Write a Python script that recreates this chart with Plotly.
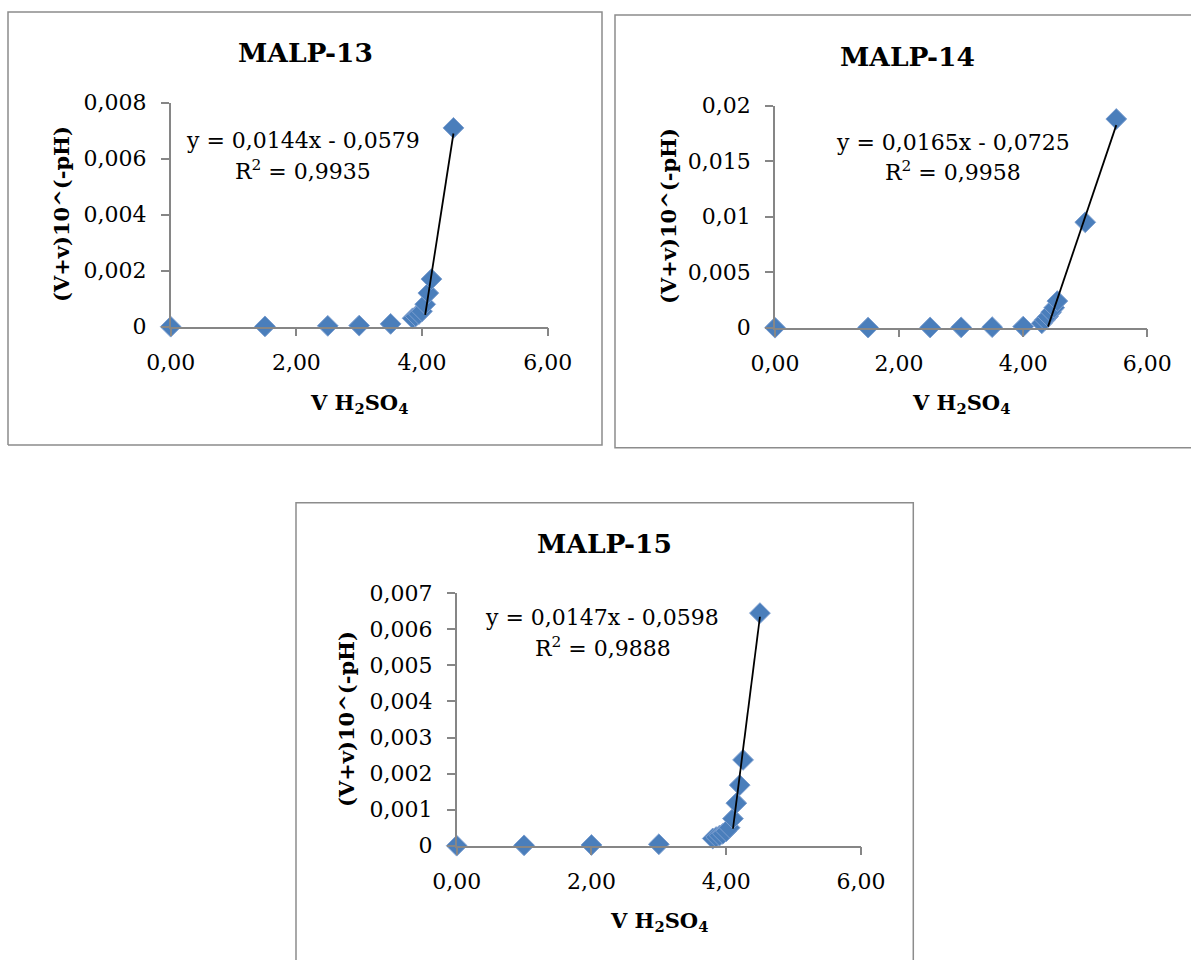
import plotly.graph_objects as go

W, H = 1191, 960

# ---- MALP-13 ----
name13 = "MALP-13"
x13 = [0.0, 1.5, 2.5, 3.0, 3.5, 3.85, 3.9, 3.95, 4.0, 4.05, 4.1, 4.15, 4.5]
y13 = [0.0, 0.00001, 0.00003, 0.00004, 0.0001, 0.0003, 0.00037, 0.00045,
       0.00055, 0.0008, 0.0012, 0.0017, 0.0071]
slope13, intercept13, r2_13 = 0.0144, -0.0579, 0.9935
fit_range13 = [4.05, 4.5]
yticks13 = [0, 0.002, 0.004, 0.006, 0.008]
yticktext13 = ["0", "0,002", "0,004", "0,006", "0,008"]

# ---- MALP-14 ----
name14 = "MALP-14"
x14 = [0.0, 1.5, 2.5, 3.0, 3.5, 4.0, 4.3, 4.35, 4.4, 4.45, 4.5, 4.55, 5.0, 5.5]
y14 = [0.0, 0.00001, 0.00002, 0.00003, 0.00005, 0.0001, 0.0004, 0.0007,
       0.001, 0.0014, 0.0018, 0.0024, 0.0095, 0.0188]
slope14, intercept14, r2_14 = 0.0165, -0.0725, 0.9958
fit_range14 = [4.4, 5.5]
yticks14 = [0, 0.005, 0.01, 0.015, 0.02]
yticktext14 = ["0", "0,005", "0,01", "0,015", "0,02"]

# ---- MALP-15 ----
name15 = "MALP-15"
x15 = [0.0, 1.0, 2.0, 3.0, 3.8, 3.85, 3.9, 3.95, 4.0, 4.05, 4.1, 4.15, 4.2, 4.25, 4.5]
y15 = [0.0, 0.00001, 0.00002, 0.00004, 0.0002, 0.00024, 0.00028, 0.00033,
       0.0004, 0.0005, 0.00075, 0.00118, 0.00168, 0.00238, 0.00645]
slope15, intercept15, r2_15 = 0.0147, -0.0598, 0.9888
fit_range15 = [4.1, 4.5]
yticks15 = [0, 0.001, 0.002, 0.003, 0.004, 0.005, 0.006, 0.007]
yticktext15 = ["0", "0,001", "0,002", "0,003", "0,004", "0,005", "0,006", "0,007"]

# shared x axis ticks
xticks = [0, 2, 4, 6]
xticktext = ["0,00", "2,00", "4,00", "6,00"]

x_title = "V H<sub>2</sub>SO<sub>4</sub>"
y_title = "(V+v)10^(-pH)"

SERIF = "DejaVu Serif"
MARKER_FILL = "#4a7ebb"
MARKER_EDGE = "#7d9fd0"
AXIS_GREY = "#868686"
FRAME_GREY = "#8c8c8c"


def px(x):
    return x / W


def py(y):
    return 1 - y / H


def fmt(v, nd=4):
    return f"{v:.{nd}f}".replace(".", ",")


# pixel layout of each chart: plot area, frame outline, text anchors
panels = [
    dict(name=name13, x=x13, y=y13, slope=slope13, intercept=intercept13, r2=r2_13,
         fit=fit_range13, yt=yticks13, ytt=yticktext13,
         plot=(170.7, 547.7, 102.7, 326.7),
         frame=[(8, 445), (8, 12), (602, 12), (602, 445), (8, 445)],
         title=(305, 52), eq=(303, 141), r2pos=(303, 170),
         ytitle=(61, 214), xtitle=(359, 403)),
    dict(name=name14, x=x14, y=y14, slope=slope14, intercept=intercept14, r2=r2_14,
         fit=fit_range14, yt=yticks14, ytt=yticktext14,
         plot=(775.0, 1147.3, 105.7, 327.7),
         frame=[(1191, 447.7), (615, 447.7), (615, 15), (1191, 15)],
         title=(907, 57), eq=(953, 142), r2pos=(953, 171),
         ytitle=(669, 216), xtitle=(961, 403)),
    dict(name=name15, x=x15, y=y15, slope=slope15, intercept=intercept15, r2=r2_15,
         fit=fit_range15, yt=yticks15, ytt=yticktext15,
         plot=(456.7, 861.0, 593.3, 845.7),
         frame=[(296, 960), (296, 502.7), (913.3, 502.7), (913.3, 960)],
         title=(604, 543), eq=(602, 617), r2pos=(603, 647),
         ytitle=(346, 719), xtitle=(659, 921)),
]

fig = go.Figure()
annotations = []
shapes = []

for i, p in enumerate(panels, start=1):
    xa = "x" if i == 1 else f"x{i}"
    ya = "y" if i == 1 else f"y{i}"
    x0, x1, ytop, ybot = p["plot"]

    fig.add_trace(go.Scatter(
        x=p["x"], y=p["y"], mode="markers", xaxis=xa, yaxis=ya,
        marker=dict(symbol="diamond", size=16, color=MARKER_FILL,
                    line=dict(color=MARKER_EDGE, width=1)),
        cliponaxis=False, showlegend=False, hoverinfo="x+y"))

    # linear trendline drawn from the fitted equation over the fitted span
    fx = p["fit"]
    fy = [p["slope"] * v + p["intercept"] for v in fx]
    fig.add_trace(go.Scatter(
        x=fx, y=fy, mode="lines", xaxis=xa, yaxis=ya,
        line=dict(color="black", width=1.8),
        cliponaxis=False, showlegend=False, hoverinfo="skip"))

    axis_common = dict(showline=True, linecolor=AXIS_GREY, linewidth=1.5,
                       ticks="outside", ticklen=8, tickcolor=AXIS_GREY, tickwidth=1.5,
                       showgrid=False, zeroline=False, automargin=False,
                       tickfont=dict(family=SERIF, size=22, color="black"))
    fig.layout[f"xaxis{'' if i == 1 else i}"] = dict(
        axis_common, domain=[px(x0), px(x1)], range=[0, 6],
        tickvals=xticks, ticktext=xticktext, anchor=ya, ticklabelstandoff=7)
    fig.layout[f"yaxis{'' if i == 1 else i}"] = dict(
        axis_common, domain=[py(ybot), py(ytop)], range=[0, p["yt"][-1]],
        tickvals=p["yt"], ticktext=p["ytt"], anchor=xa, ticklabelstandoff=10)

    path = " ".join(("M" if k == 0 else "L") + f" {px(a):.5f},{py(b):.5f}"
                    for k, (a, b) in enumerate(p["frame"]))
    shapes.append(dict(type="path", xref="paper", yref="paper", path=path,
                       line=dict(color=FRAME_GREY, width=1.5), layer="below"))

    def ann(text, pos, size, bold=False, angle=0):
        annotations.append(dict(
            text=f"<b>{text}</b>" if bold else text,
            x=px(pos[0]), y=py(pos[1]), xref="paper", yref="paper",
            xanchor="center", yanchor="middle", showarrow=False, textangle=angle,
            font=dict(family=SERIF, size=size, color="black")))

    ann(p["name"], p["title"], 26.5, bold=True)
    sign = "-" if p["intercept"] < 0 else "+"
    ann(f"y = {fmt(p['slope'])}x {sign} {fmt(abs(p['intercept']))}", p["eq"], 22)
    ann(f"R<sup>2</sup> = {fmt(p['r2'])}", p["r2pos"], 22)
    ann(y_title, p["ytitle"], 21, bold=True, angle=-90)
    ann(x_title, p["xtitle"], 21, bold=True)

fig.update_layout(
    template="none",
    width=W, height=H, margin=dict(l=0, r=0, t=0, b=0, autoexpand=False),
    paper_bgcolor="white", plot_bgcolor="white",
    separators=",.", annotations=annotations, shapes=shapes,
    showlegend=False)

fig.write_html("out.html")
